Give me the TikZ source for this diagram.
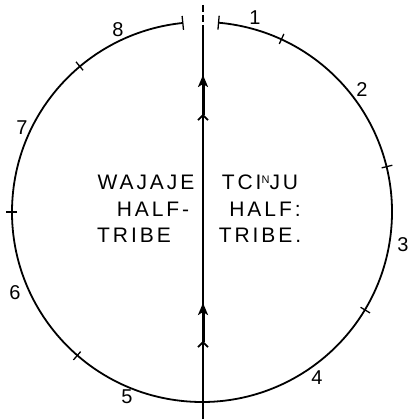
\documentclass[tikz,border=0pt]{standalone}
\usepackage{fontspec}
\setmainfont{Liberation Sans}
\newfontfamily\letterfont[LetterSpace=14]{Liberation Sans}
\usetikzlibrary{arrows.meta}

\begin{document}
\begin{tikzpicture}[x=1pt, y=1pt,
  rim/.style={line width=1.8pt},
  notch/.style={line width=1.3pt},
  axis/.style={line width=1.2pt},
  flow/.style={line width=3pt,
    {Straight Barb[reversed, length=5pt, width=10pt, line width=1.8pt]}-{Stealth[length=12pt, width=10pt, inset=3pt]}},
  num/.style={font=\fontsize{20}{20}\selectfont, inner sep=0pt},
  word/.style={font=\letterfont\fontsize{21}{21}\selectfont, inner sep=0pt, anchor=base},
]

\def\rad{190}
\useasboundingbox (0,0) rectangle (414,419);
\coordinate (c) at (202,207);

% ring, open at the top
\draw[rim] ([shift={(85:\rad)}]c) arc[start angle=85, end angle=-264.2, radius=\rad];
\draw[notch] ([shift={(85:183)}]c) -- ([shift={(85:197)}]c);
\draw[notch] ([shift={(95.8:183)}]c) -- ([shift={(95.8:197)}]c);

% marks between the parts
\draw[notch] ([shift={(65.3:185)}]c) -- ([shift={(65.3:196)}]c);
\draw[notch] ([shift={(13.8:185)}]c) -- ([shift={(13.8:196)}]c);
\draw[notch] ([shift={(-31:185)}]c) -- ([shift={(-31:196)}]c);
\draw[notch] ([shift={(229:185)}]c) -- ([shift={(229:196)}]c);
\draw[notch] ([shift={(180:185)}]c) -- ([shift={(180:196)}]c);
\draw[notch] ([shift={(130:185)}]c) -- ([shift={(130:196)}]c);

% numbers of the parts
\node[num] (n1) at (255,401) {1};
\node[num] (n2) at (362,329) {2};
\node[num] (n3) at (403,174) {3};
\node[num] (n4) at (317,41) {4};
\node[num] (n5) at (127,22) {5};
\node[num] (n6) at (15,126) {6};
\node[num] (n7) at (22,291) {7};
\node[num] (n8) at (118,389) {8};

% dividing line
\coordinate (top) at (203,414);
\coordinate (brk) at (203,390);
\coordinate (bot) at (203,0);
\draw[axis, dash pattern=on 7pt off 3pt] (top) -- (brk);
\draw[axis] (brk) -- (bot);

\coordinate (upA) at (203,298);
\coordinate (upB) at (203,344);
\coordinate (loA) at (203,71);
\coordinate (loB) at (203,116);
\draw[flow] (upA) -- (upB);
\draw[flow] (loA) -- (loB);

% the two halves
\node[word] (waj) at (146,229) {WAJAJE};
\node[word] (halfL) at (153,202) {HALF-};
\node[word] (tribeL) at (134,176) {TRIBE};
\node[word] (tci) at (260,229)
  {TCI{\fontsize{11}{11}\selectfont\raisebox{6pt}{N}}JU};
\node[word] (halfR) at (265,202) {HALF:};
\node[word] (tribeR) at (260,176) {TRIBE.};

\end{tikzpicture}
\end{document}
